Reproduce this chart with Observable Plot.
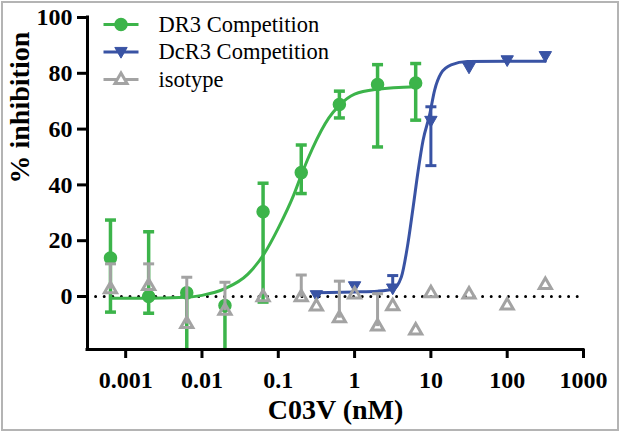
<!DOCTYPE html>
<html><head><meta charset="utf-8">
<script src="https://cdn.jsdelivr.net/npm/d3@7"></script>
<script src="https://cdn.jsdelivr.net/npm/@observablehq/plot@0.6"></script>
<style>
body{margin:0;background:#fff}
#chart svg{display:block;outline:2px solid #b4b4b4;outline-offset:-3px}
#chart svg text{font-family:"Liberation Serif","Times New Roman",serif}
</style>
</head><body><div id="chart"></div>
<script>
// ---- data ----
const greenX  = [0.000632, 0.002, 0.00632, 0.02, 0.0632, 0.2, 0.632, 2, 6.32];
const greenY  = [13.8, 0, 1.3, -3.2, 30.4, 44.4, 68.8, 76.0, 76.5];
const greenLo = [-5.6, -6, -19, -19, -2.0, 36.9, 64.0, 53.6, 63.2];
const greenHi = [27.4, 23.2, 1.3, -3.2, 40.6, 54.3, 73.6, 83.1, 83.5];

const blueX  = [0.316, 1, 3.16, 10, 31.6, 100, 316];
const blueY  = [0.8, 4.0, 3.2, 63.3, 82.4, 85.0, 86.5];
const blueLo = [0.8, 4.0, 3.2, 46.9, 82.4, 85.0, 86.5];
const blueHi = [0.8, 4.0, 7.5, 68.0, 82.4, 85.0, 86.5];

const greyX  = [0.000632, 0.002, 0.00632, 0.02, 0.0632, 0.2, 0.316, 0.632, 1, 2, 3.16, 6.32, 10, 31.6, 100, 316];
const greyY  = [2.6, 3.8, -9.9, -5.1, -0.3, -0.3, -3.6, -7.8, 0.7, -10.8, -3.5, -12.2, 1.2, 0.7, -3.2, 4.1];
const greyHi = [11.7, 11.7, 6.9, 5.1, null, 7.7, null, 5.5, null, 1.0, null, null, null, null, null, null];

// fitted curves
const greenCurveX = [0.000632, 0.002, 0.005, 0.01, 0.02, 0.04, 0.066, 0.1, 0.16, 0.21, 0.28, 0.46, 0.632, 1.0, 2.0, 6.32];
const greenCurveY = [-0.6, -0.6, -0.4, 0.4, 2.8, 8.0, 15.5, 24.5, 36.5, 45.0, 53.0, 64.0, 68.5, 72.5, 74.3, 75.2];
const blueCurveX = [0.316, 1, 2, 3.16, 4.1, 5.0, 5.85, 6.8, 7.9, 9.6, 11.2, 13.6, 18.4, 30, 100, 316];
const blueCurveY = [1.3, 1.6, 1.9, 2.6, 7.0, 19.0, 32.0, 45.0, 56.0, 65.0, 74.0, 80.0, 83.0, 84.2, 84.3, 84.3];

const xTicks = [0.001, 0.01, 0.1, 1, 10, 100, 1000];
const xTickLabels = ["0.001", "0.01", "0.1", "1", "10", "100", "1000"];
const yTicks = [0, 20, 40, 60, 80, 100];
const xDomain = [0.000316, 1000];
const yDomain = [-19, 100];

const seriesNames = ["DR3 Competition", "DcR3 Competition", "isotype"];
const xTitle = "C03V (nM)";
const yTitle = "% inhibition";

// ---- styling ----
const GREEN = "#3cb44a", BLUE = "#3953a4", GREY = "#a3a3a3";
const SERIF = "Liberation Serif";

const hbar = {draw(ctx, size){ const r = Math.sqrt(size/Math.PI); ctx.moveTo(-r,0); ctx.lineTo(r,0); }};
const triDown = {draw(ctx, size){
  const h = Math.sqrt(size/(Math.sqrt(3)*3)), s = Math.sqrt(3)*h;
  ctx.moveTo(0, 2*h); ctx.lineTo(-s, -h); ctx.lineTo(s, -h); ctx.closePath();
}};

const green = greenX.map((x,i)=>({x, y:greenY[i], lo:greenLo[i], hi:greenHi[i]}));
const blue = blueX.map((x,i)=>({x, y:blueY[i], lo:blueLo[i], hi:blueHi[i]}));
const grey = greyX.map((x,i)=>({x, y:greyY[i], hi:greyHi[i]}));
const greenCurve = greenCurveX.map((x,i)=>({x, y:greenCurveY[i]}));
const blueCurve = blueCurveX.map((x,i)=>({x, y:blueCurveY[i]}));

const greenCapsLo = green.filter(d=>d.lo > yDomain[0] && d.lo !== d.y);
const greenCapsHi = green.filter(d=>d.hi !== d.y);
const blueCapsLo = blue.filter(d=>d.lo !== d.y);
const blueCapsHi = blue.filter(d=>d.hi !== d.y);
const greyBars = grey.filter(d=>d.hi != null);

const legendColors = [GREEN, BLUE, GREY];
const legendMarks = seriesNames.flatMap((name,i)=>{
  const dy = 7 + i*27.5;
  const c = legendColors[i];
  const marker = i===0 ? Plot.dot([name], {frameAnchor:"top-left", dx:33.5, dy, r:6, fill:c, stroke:c})
    : i===1 ? Plot.dot([name], {frameAnchor:"top-left", dx:33.5, dy:dy-1, r:4.6, symbol:triDown, fill:c, stroke:c, strokeWidth:1})
    : Plot.dot([name], {frameAnchor:"top-left", dx:33.5, dy:dy+0.5, r:4.5, symbol:"triangle", fill:"white", stroke:c, strokeWidth:3});
  return [
    Plot.dot([name], {frameAnchor:"top-left", dx:33.5, dy, r:17.5, symbol:hbar, fill:"none", stroke:c, strokeWidth:3}),
    marker,
    Plot.text([name], {frameAnchor:"top-left", dx:71, dy, text:d=>d, textAnchor:"start", lineAnchor:"middle", fontSize:22.5, fontFamily:SERIF, fill:"black"})
  ];
});

const chart = Plot.plot({
  width: 620, height: 432,
  marginLeft: 87, marginRight: 37, marginTop: 17, marginBottom: 83,
  style: {background:"white", color:"black", overflow:"visible", fontFamily:SERIF},
  x: {type:"log", domain:xDomain},
  y: {domain:yDomain},
  marks: [
    Plot.ruleY([{y:0, x1:xDomain[0], x2:xDomain[1]}], {y:"y", x1:"x1", x2:"x2", stroke:"black", strokeWidth:3, strokeDasharray:"0 8.6", strokeLinecap:"round"}),
    // DR3
    Plot.line(greenCurve, {x:"x", y:"y", stroke:GREEN, strokeWidth:3, curve:"monotone-x"}),
    Plot.ruleX(green, {x:"x", y1:"lo", y2:"hi", stroke:GREEN, strokeWidth:3.5}),
    Plot.dot(greenCapsLo, {x:"x", y:"lo", symbol:hbar, r:5.5, fill:"none", stroke:GREEN, strokeWidth:3.5}),
    Plot.dot(greenCapsHi, {x:"x", y:"hi", symbol:hbar, r:5.5, fill:"none", stroke:GREEN, strokeWidth:3.5}),
    Plot.dot(green, {x:"x", y:"y", r:6, fill:GREEN, stroke:GREEN}),
    // DcR3
    Plot.line(blueCurve, {x:"x", y:"y", stroke:BLUE, strokeWidth:3, curve:"monotone-x"}),
    Plot.ruleX(blue, {x:"x", y1:"lo", y2:"hi", stroke:BLUE, strokeWidth:3}),
    Plot.dot(blueCapsLo, {x:"x", y:"lo", symbol:hbar, r:5.5, fill:"none", stroke:BLUE, strokeWidth:3}),
    Plot.dot(blueCapsHi, {x:"x", y:"hi", symbol:hbar, r:5.5, fill:"none", stroke:BLUE, strokeWidth:3}),
    Plot.dot(blue, {x:"x", y:"y", r:4.6, symbol:triDown, fill:BLUE, stroke:BLUE, strokeWidth:1}),
    // isotype
    Plot.ruleX(greyBars, {x:"x", y1:"y", y2:"hi", stroke:GREY, strokeWidth:3}),
    Plot.dot(greyBars, {x:"x", y:"hi", symbol:hbar, r:5.5, fill:"none", stroke:GREY, strokeWidth:3}),
    Plot.dot(grey, {x:"x", y:"y", r:4.5, symbol:"triangle", fill:"none", stroke:GREY, strokeWidth:3}),
    // axes
    Plot.ruleX([{x:xDomain[0], y1:yDomain[0], y2:yDomain[1]}], {x:"x", y1:"y1", y2:"y2", stroke:"black", strokeWidth:3, strokeLinecap:"square"}),
    Plot.ruleY([{y:yDomain[0], x1:xDomain[0], x2:xDomain[1]}], {y:"y", x1:"x1", x2:"x2", stroke:"black", strokeWidth:3, strokeLinecap:"square"}),
    Plot.axisX({ticks:xTicks, tickFormat:d=>xTickLabels[xTicks.indexOf(d)], tickSize:9, tickPadding:12, strokeWidth:3, fontSize:24, fontWeight:"bold", fontFamily:SERIF, label:null}),
    Plot.axisY({ticks:yTicks, tickSize:10, tickPadding:5, strokeWidth:3, fontSize:24, fontWeight:"bold", fontFamily:SERIF, label:null}),
    Plot.text([xTitle], {frameAnchor:"bottom", dy:60.5, text:d=>d, lineAnchor:"middle", fontSize:28, fontWeight:"bold", fontFamily:SERIF, fill:"black"}),
    Plot.text([yTitle], {frameAnchor:"left", dx:-67, text:d=>d, rotate:-90, lineAnchor:"middle", fontSize:28, fontWeight:"bold", fontFamily:SERIF, fill:"black"}),
    ...legendMarks
  ]
});
document.getElementById("chart").appendChild(chart);
</script>
</body></html>
